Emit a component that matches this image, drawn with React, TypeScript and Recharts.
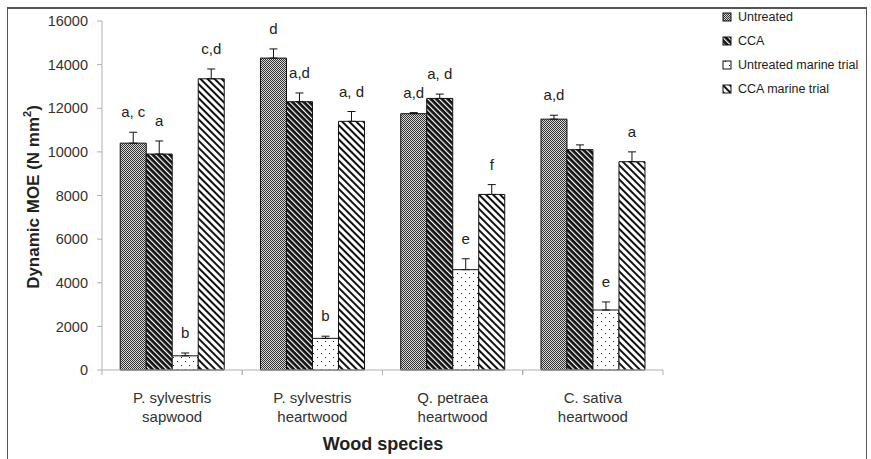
import React from "react"
import { Bar, BarChart, ErrorBar, LabelList, XAxis, YAxis } from "recharts"

const categories = ["P. sylvestris\nsapwood", "P. sylvestris\nheartwood", "Q. petraea\nheartwood", "C. sativa\nheartwood"]

const untreated = [10400, 14300, 11750, 11500]
const untreatedErr = [500, 420, 50, 180]
const untreatedTags = ["a, c", "d", "a,d", "a,d"]

const cca = [9900, 12300, 12450, 10100]
const ccaErr = [600, 400, 200, 220]
const ccaTags = ["a", "a,d", "a, d", ""]

const untreatedMarine = [650, 1450, 4600, 2750]
const untreatedMarineErr = [130, 100, 500, 370]
const untreatedMarineTags = ["b", "b", "e", "e"]

const ccaMarine = [13350, 11400, 8050, 9550]
const ccaMarineErr = [450, 450, 450, 450]
const ccaMarineTags = ["c,d", "a, d", "f", "a"]

const yTicks = [0, 2000, 4000, 6000, 8000, 10000, 12000, 14000, 16000]

const data = categories.map((name, i) => ({
  name,
  u: untreated[i],
  uErr: [0, untreatedErr[i]],
  c: cca[i],
  cErr: [0, ccaErr[i]],
  um: untreatedMarine[i],
  umErr: [0, untreatedMarineErr[i]],
  cm: ccaMarine[i],
  cmErr: [0, ccaMarineErr[i]],
}))

const FONT = "'Liberation Sans', Arial, sans-serif"
const AXIS = "#b0b0b0"

function Patterns({ p }: { p: string }) {
  return (
    <defs>
      <pattern id={`${p}-untreated`} width="2" height="2" patternUnits="userSpaceOnUse">
        <rect width="2" height="2" fill="#d8d8d8" />
        <rect x="0" y="0" width="1" height="1" fill="#333" />
        <rect x="1" y="1" width="1" height="1" fill="#333" />
      </pattern>
      <pattern id={`${p}-cca`} width="4" height="4" patternUnits="userSpaceOnUse" patternTransform="rotate(-45)">
        <rect width="4" height="4" fill="#111" />
        <rect x="0" y="0" width="1.2" height="4" fill="#fff" />
      </pattern>
      <pattern id={`${p}-umarine`} width="8" height="8" patternUnits="userSpaceOnUse">
        <rect width="8" height="8" fill="#fff" />
        <rect x="1" y="1" width="1" height="1" fill="#222" />
        <rect x="5" y="5" width="1" height="1" fill="#222" />
      </pattern>
      <pattern id={`${p}-cmarine`} width="5" height="5" patternUnits="userSpaceOnUse" patternTransform="rotate(-45)">
        <rect width="5" height="5" fill="#fff" />
        <rect x="0" y="0" width="2" height="5" fill="#111" />
      </pattern>
    </defs>
  )
}

const tagRenderer = (tags: string[], errs: number[]) => (props: any) => {
  const { x, y, width, height, value, index } = props
  const tag = tags[index]
  if (!tag) return null
  const pxPerUnit = height / value
  const top = y - errs[index] * pxPerUnit
  return (
    <text x={x + width / 2} y={top - 15} textAnchor="middle" fontSize={15} fill="#222" fontFamily={FONT}>
      {tag}
    </text>
  )
}

// category labels on two lines; the axis line and the ticks between groups are drawn here too
const CatTick = (props: any) => {
  const { x, y, payload, width, visibleTicksCount } = props
  const band = width / visibleTicksCount
  const [l1, l2] = String(payload.value).split("\n")
  return (
    <g>
      <line x1={x - band / 2} x2={x + band / 2} y1={y} y2={y} stroke={AXIS} />
      <line x1={x - band / 2} x2={x - band / 2} y1={y} y2={y + 5} stroke={AXIS} />
      <line x1={x + band / 2} x2={x + band / 2} y1={y} y2={y + 5} stroke={AXIS} />
      <text x={x} y={y} textAnchor="middle" fontSize={15} fill="#333" fontFamily={FONT}>
        <tspan x={x} dy={33}>{l1}</tspan>
        <tspan x={x} dy={19}>{l2}</tspan>
      </text>
    </g>
  )
}

const legendItems = [
  { key: "untreated", label: "Untreated" },
  { key: "cca", label: "CCA" },
  { key: "umarine", label: "Untreated marine trial" },
  { key: "cmarine", label: "CCA marine trial" },
]

export default function App() {
  return (
    <div style={{ position: "absolute", left: 0, top: 0, width: 871, height: 459, background: "#fff", fontFamily: FONT }}>
      <div
        style={{
          position: "absolute",
          left: 7,
          top: 7,
          width: 860,
          height: 452,
          borderTop: "2px solid #555",
          borderLeft: "1px solid #555",
          borderRight: "1px solid #555",
          boxSizing: "border-box",
        }}
      />
      <div style={{ position: "absolute", left: 0, top: 0 }}>
        <BarChart
          width={871}
          height={459}
          data={data}
          margin={{ top: 21, right: 208, left: 42, bottom: 29 }}
          barCategoryGap="13%"
          barGap={0}
        >
          <Patterns p="c" />
          <XAxis
            dataKey="name"
            axisLine={false}
            tickLine={false}
            tickSize={0}
            tickMargin={0}
            height={60}
            tick={<CatTick />}
            interval={0}
          />
          <YAxis
            domain={[0, 16000]}
            ticks={yTicks}
            width={60}
            tickSize={5}
            tickMargin={9}
            stroke={AXIS}
            tick={{ fill: "#333", fontSize: 14.5, fontFamily: FONT }}
          />
          <Bar dataKey="u" fill="url(#c-untreated)" stroke="#111" strokeWidth={1} isAnimationActive={false}>
            <ErrorBar dataKey="uErr" width={4} stroke="#111" strokeWidth={1} direction="y" />
            <LabelList dataKey="u" content={tagRenderer(untreatedTags, untreatedErr)} />
          </Bar>
          <Bar dataKey="c" fill="url(#c-cca)" stroke="#111" strokeWidth={1} isAnimationActive={false}>
            <ErrorBar dataKey="cErr" width={4} stroke="#111" strokeWidth={1} direction="y" />
            <LabelList dataKey="c" content={tagRenderer(ccaTags, ccaErr)} />
          </Bar>
          <Bar dataKey="um" fill="url(#c-umarine)" stroke="#111" strokeWidth={1} isAnimationActive={false}>
            <ErrorBar dataKey="umErr" width={4} stroke="#111" strokeWidth={1} direction="y" />
            <LabelList dataKey="um" content={tagRenderer(untreatedMarineTags, untreatedMarineErr)} />
          </Bar>
          <Bar dataKey="cm" fill="url(#c-cmarine)" stroke="#111" strokeWidth={1} isAnimationActive={false}>
            <ErrorBar dataKey="cmErr" width={4} stroke="#111" strokeWidth={1} direction="y" />
            <LabelList dataKey="cm" content={tagRenderer(ccaMarineTags, ccaMarineErr)} />
          </Bar>
        </BarChart>
      </div>
      <svg width={871} height={459} style={{ position: "absolute", left: 0, top: 0, pointerEvents: "none" }}>
        <Patterns p="l" />
        <text
          transform="translate(33,197) rotate(-90)"
          textAnchor="middle"
          dominantBaseline="central"
          fontSize={17}
          fontWeight="bold"
          fill="#222"
          fontFamily={FONT}
        >
          Dynamic MOE (N mm<tspan dy={-6} fontSize={11}>2</tspan><tspan dy={6}>)</tspan>
        </text>
        <text x={383} y={450} textAnchor="middle" fontSize={18} fontWeight="bold" fill="#222" fontFamily={FONT}>
          Wood species
        </text>
        {legendItems.map((it, i) => {
          const cy = 17 + i * 24
          return (
            <g key={it.key}>
              <rect x={723} y={cy - 4} width={8} height={8} fill={`url(#l-${it.key})`} stroke="#111" strokeWidth={1} />
              <text x={738} y={cy} dominantBaseline="central" fontSize={12.5} fill="#222" fontFamily={FONT}>
                {it.label}
              </text>
            </g>
          )
        })}
      </svg>
    </div>
  )
}
